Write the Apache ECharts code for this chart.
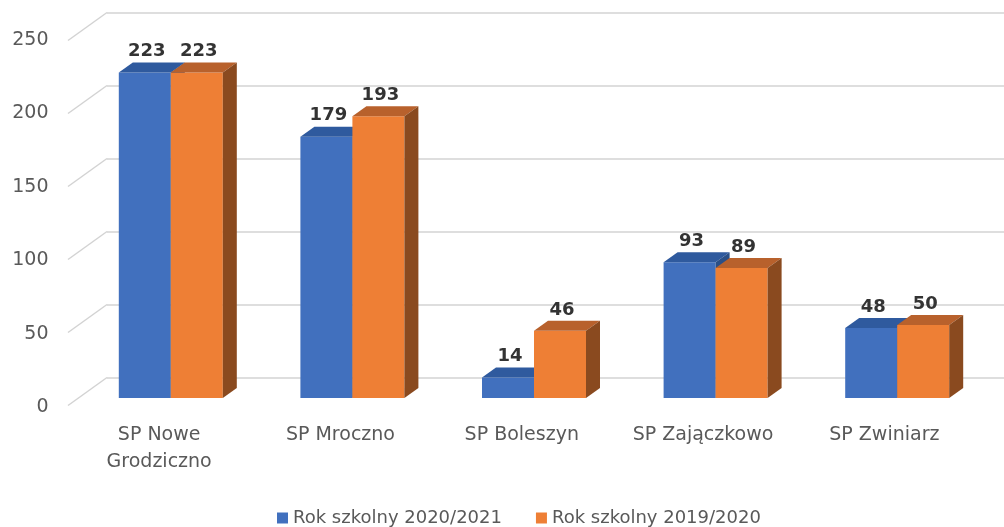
<!DOCTYPE html>
<html>
<head>
<meta charset="utf-8">
<script src="https://cdn.jsdelivr.net/npm/echarts@6/dist/echarts.min.js"></script>
<style>
  html, body { margin: 0; padding: 0; background: #fff; }
  #chart { width: 1004px; height: 527px; }
</style>
</head>
<body>
<div id="chart"></div>
<script>
// chart data
var categories = ["SP Nowe\nGrodziczno", "SP Mroczno", "SP Boleszyn", "SP Zajączkowo", "SP Zwiniarz"];
var seriesNames = ["Rok szkolny 2020/2021", "Rok szkolny 2019/2020"];
var values2021 = [223, 179, 14, 93, 48];
var values2020 = [223, 193, 46, 89, 50];
var yTicks = [0, 50, 100, 150, 200, 250];

var FONT = "DejaVu Sans";
var gridColor = "#d3d3d3";
// depth of the pseudo 3d bars (px)
var DX = 14, DY = -10;
var BAR_W = 52;

var faces = [
  { front: "#4170BE", top: "#2F5A9E", side: "#2A4F87" },
  { front: "#EE7F35", top: "#B8612C", side: "#8A4A1F" }
];

function barRenderer(si) {
  return function (params, api) {
    var idx = api.value(0);
    var val = api.value(1);
    var base = api.coord([idx, 0]);
    var top = api.coord([idx, val]);
    var x0 = si === 0 ? base[0] - BAR_W : base[0];
    var x1 = x0 + BAR_W;
    var y0 = top[1], yb = base[1];
    var c = faces[si];
    return {
      type: "group",
      children: [
        { type: "rect", shape: { x: x0, y: y0, width: BAR_W, height: yb - y0 }, style: { fill: c.front } },
        { type: "polygon", shape: { points: [[x0, y0], [x1, y0], [x1 + DX, y0 + DY], [x0 + DX, y0 + DY]] }, style: { fill: c.top } },
        { type: "polygon", shape: { points: [[x1, y0], [x1 + DX, y0 + DY], [x1 + DX, yb + DY], [x1, yb]] }, style: { fill: c.side } },
        {
          type: "text",
          x: (x0 + x1) / 2 + 2,
          y: y0 - 21,
          style: {
            text: String(val), fill: "#333", font: "bold 18px '" + FONT + "'",
            align: "center", verticalAlign: "middle"
          }
        }
      ]
    };
  };
}

var chart = echarts.init(document.getElementById("chart"));
chart.setOption({
  backgroundColor: "#fff",
  animation: false,
  grid: [
    // back wall (gridlines)
    { left: 107, right: 0, top: 12.5, bottom: 149.5 },
    // front plane (bars)
    { left: 80, right: 16, top: 33, bottom: 129 },
    // axis labels
    { left: 68.5, right: 29, top: 40, bottom: 120 }
  ],
  legend: {
    left: 272,
    top: 504,
    itemWidth: 11,
    itemHeight: 11,
    itemGap: 34,
    icon: "rect",
    textStyle: { fontFamily: FONT, fontSize: 18, color: "#595959" },
    data: seriesNames
  },
  xAxis: [
    { gridIndex: 0, type: "value", min: 0, max: 1, show: false },
    { gridIndex: 1, type: "category", data: categories, show: false },
    {
      gridIndex: 2, type: "category", data: categories,
      axisLine: { show: false }, axisTick: { show: false },
      axisLabel: {
        interval: 0, margin: 15, fontFamily: FONT, fontSize: 19,
        lineHeight: 27, color: "#595959"
      }
    }
  ],
  yAxis: [
    {
      gridIndex: 0, type: "value", min: 0, max: 250, interval: 50,
      axisLine: { show: false }, axisTick: { show: false }, axisLabel: { show: false },
      splitLine: { lineStyle: { color: gridColor, width: 1.5 } }
    },
    { gridIndex: 1, type: "value", min: 0, max: 250, interval: 50, show: false, splitLine: { show: false } },
    {
      gridIndex: 2, type: "value", min: 0, max: 250, interval: 50,
      axisLine: { show: false }, axisTick: { show: false }, splitLine: { show: false },
      axisLabel: { margin: 20, fontFamily: FONT, fontSize: 19, color: "#595959" }
    }
  ],
  series: [
    {
      // slanted floor/side-wall part of the gridlines
      type: "custom",
      xAxisIndex: 0, yAxisIndex: 0,
      silent: true,
      data: yTicks.map(function (v) { return [0, v]; }),
      renderItem: function (params, api) {
        var p = api.coord([0, api.value(1)]);
        return {
          type: "line",
          shape: { x1: p[0] - 39, y1: p[1] + 28, x2: p[0], y2: p[1] },
          style: { stroke: gridColor, lineWidth: 1.5 }
        };
      }
    },
    {
      name: seriesNames[0],
      type: "custom",
      xAxisIndex: 1, yAxisIndex: 1,
      itemStyle: { color: faces[0].front },
      data: values2021.map(function (v, i) { return [i, v]; }),
      renderItem: barRenderer(0)
    },
    {
      name: seriesNames[1],
      type: "custom",
      xAxisIndex: 1, yAxisIndex: 1,
      itemStyle: { color: faces[1].front },
      data: values2020.map(function (v, i) { return [i, v]; }),
      renderItem: barRenderer(1)
    }
  ]
});
</script>
</body>
</html>
